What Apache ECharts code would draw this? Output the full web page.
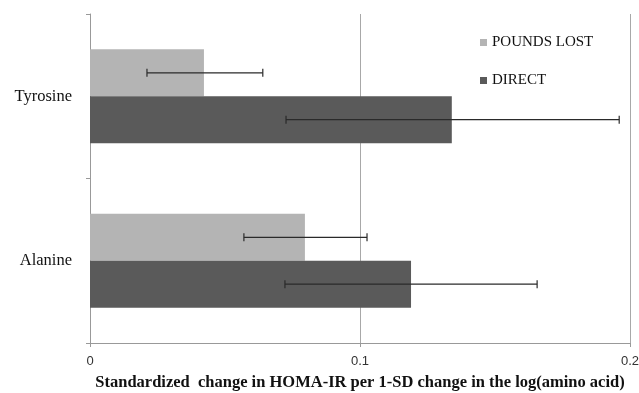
<!DOCTYPE html>
<html><head><meta charset="utf-8">
<script src="https://cdn.jsdelivr.net/npm/echarts@6/dist/echarts.min.js"></script>
<style>html,body{margin:0;padding:0;background:#fff}#c{width:639px;height:393px}</style>
</head><body><div id="c"></div>
<script>
const categories = ['Alanine', 'Tyrosine'];
const seriesNames = ['POUNDS LOST', 'DIRECT'];
const poundsLost = [0.0796, 0.0422];
const poundsLostLow = [0.057, 0.0211];
const poundsLostHigh = [0.1026, 0.064];
const direct = [0.1189, 0.134];
const directLow = [0.0722, 0.0726];
const directHigh = [0.1656, 0.196];
const xTicks = [0, 0.1, 0.2];

function errData(lo, hi) { return categories.map((c, i) => [i, lo[i], hi[i]]); }
function errSeries(lo, hi, shift) {
  return {
    type: 'custom', z: 10, silent: true,
    data: errData(lo, hi),
    renderItem: function (params, api) {
      const ci = api.value(0);
      const p1 = api.coord([api.value(1), ci]);
      const p2 = api.coord([api.value(2), ci]);
      const band = api.size([0, 1])[1];
      const y = p1[1] + shift * band;
      const h = 4;
      const st = { stroke: '#2a2a2a', lineWidth: 1.2 };
      return { type: 'group', children: [
        { type: 'line', shape: { x1: p1[0], y1: y, x2: p2[0], y2: y }, style: st },
        { type: 'line', shape: { x1: p1[0], y1: y - h, x2: p1[0], y2: y + h }, style: st },
        { type: 'line', shape: { x1: p2[0], y1: y - h, x2: p2[0], y2: y + h }, style: st }
      ]};
    }
  };
}
const chart = echarts.init(document.getElementById('c'));
chart.setOption({
  animation: false,
  grid: { left: 90, right: 9, top: 14, bottom: 50, containLabel: false, outerBoundsMode: 'none' },
  legend: {
    orient: 'vertical', left: 475, top: 30, itemGap: 23,
    icon: 'rect', itemWidth: 7, itemHeight: 7,
    data: seriesNames,
    textStyle: { fontFamily: 'Liberation Serif', fontSize: 15, color: '#111' }
  },
  xAxis: {
    type: 'value', min: 0, max: 0.2, interval: 0.1,
    name: 'Standardized  change in HOMA-IR per 1-SD change in the log(amino acid)',
    nameLocation: 'middle', nameGap: 31,
    nameTextStyle: { fontFamily: 'Liberation Serif', fontWeight: 'bold', fontSize: 16.5, color: '#111' },
    axisLine: { show: true, lineStyle: { color: '#999' } },
    axisTick: { show: true, length: 4, lineStyle: { color: '#999' } },
    axisLabel: { fontFamily: 'Liberation Sans', fontSize: 13, color: '#333', margin: 12,
      formatter: v => xTicks.includes(+v.toFixed(2)) ? String(+v.toFixed(2)) : '' },
    splitLine: { show: true, lineStyle: { color: '#a8a8a8' } }
  },
  yAxis: {
    type: 'category', data: categories,
    axisLine: { show: true, lineStyle: { color: '#999' } },
    axisTick: { show: true, length: 4, lineStyle: { color: '#999' } },
    axisLabel: { fontFamily: 'Liberation Serif', fontSize: 16.5, color: '#111', margin: 18, padding: [0, 0, 5, 0] },
    splitLine: { show: false }
  },
  series: [
    { name: 'POUNDS LOST', type: 'bar', data: poundsLost, barGap: '0%', barCategoryGap: '43%',
      itemStyle: { color: '#b4b4b4' } },
    { name: 'DIRECT', type: 'bar', data: direct, barGap: '0%', barCategoryGap: '43%',
      itemStyle: { color: '#5a5a5a' } },
    errSeries(poundsLostLow, poundsLostHigh, -0.1425),
    errSeries(directLow, directHigh, 0.1425)
  ]
});
</script></body></html>
